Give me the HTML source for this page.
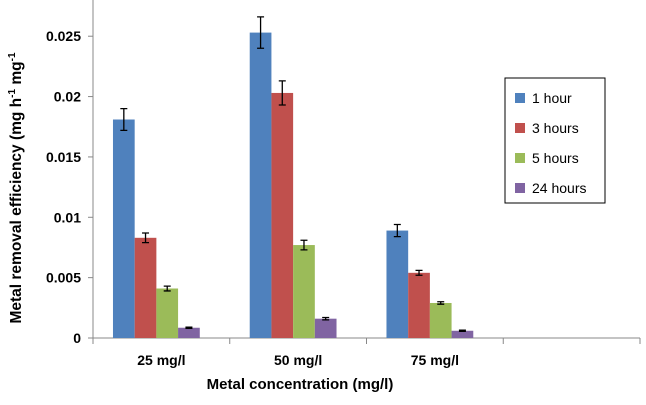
<!DOCTYPE html>
<html><head><meta charset="utf-8"><style>
html,body{margin:0;padding:0;background:#fff;}
svg{display:block;font-family:"Liberation Sans",sans-serif;}
</style></head><body>
<svg id="chart" width="646" height="405" viewBox="0 0 646 405"></svg>
<script>
const categories = ["25 mg/l","50 mg/l","75 mg/l",""];
const seriesNames = ["1 hour","3 hours","5 hours","24 hours"];
const seriesColors = ["#4F81BD","#C0504D","#9BBB59","#8064A2"];
const values1h = [0.0181,0.0253,0.0089];
const values3h = [0.0083,0.0203,0.0054];
const values5h = [0.0041,0.0077,0.0029];
const values24h = [0.00085,0.0016,0.0006];
const err1h = [0.0009,0.0013,0.0005];
const err3h = [0.0004,0.0010,0.0002];
const err5h = [0.0002,0.0004,0.0001];
const err24h = [0.00005,0.0001,0.00005];
const yTicks = [0,0.005,0.01,0.015,0.02,0.025];
const yTickLabels = ["0","0.005","0.01","0.015","0.02","0.025"];

const NS="http://www.w3.org/2000/svg";
const svg=document.getElementById('chart');
const X0=93,X1=640,Y0=338,YMAX=0.028,TOPY=0;
const y=v=>Y0-(v/YMAX)*(Y0-TOPY);
const gw=(X1-X0)/categories.length;
const barW=21.7;
function mk(t,a,p){const e=document.createElementNS(NS,t);for(const k in a)e.setAttribute(k,a[k]);(p||svg).appendChild(e);return e;}

const axes=mk('g',{});


const ya=mk('line',{x1:X0,y1:TOPY,x2:X0,y2:Y0,stroke:'#888','stroke-width':1},axes);


const xa=mk('line',{x1:X0,y1:Y0,x2:X1,y2:Y0,stroke:'#888','stroke-width':1},axes);


yTicks.forEach((v,i)=>{
  mk('line',{x1:X0-5,y1:y(v),x2:X0,y2:y(v),stroke:'#888'},axes);
  const t=mk('text',{x:X0-12,y:y(v)+5,'text-anchor':'end','font-size':14,'font-weight':'bold',fill:'#000'},axes);
  t.textContent=yTickLabels[i];
  
  
});
for(let i=0;i<=categories.length;i++){
  const x=X0+i*gw;
  mk('line',{x1:x,y1:Y0,x2:x,y2:Y0+6,stroke:'#888'},axes);
}
categories.forEach((c,i)=>{
  if(!c)return;
  const t=mk('text',{x:X0+gw*(i+0.5),y:Y0+27,'text-anchor':'middle','font-size':14,'font-weight':'bold'},axes);
  t.textContent=c;
  
  
});
const allVals=[values1h,values3h,values5h,values24h];
const allErr=[err1h,err3h,err5h,err24h];
allVals.forEach((vals,s)=>{
  const g=mk('g',{});
  
  
  vals.forEach((v,i)=>{
    const cx=X0+gw*(i+0.5)-5;
    const x=cx-2*barW+s*barW;
    const r=mk('rect',{x:x,y:y(v),width:barW,height:Y0-y(v),fill:seriesColors[s]},g);
    
    
    const e=allErr[s][i],mx=x+barW/2;
    const eb=mk('path',{d:`M${mx} ${y(v+e)}V${y(v-e)}M${mx-3.5} ${y(v+e)}H${mx+3.5}M${mx-3.5} ${y(v-e)}H${mx+3.5}`,stroke:'#000','stroke-width':1.3,fill:'none'},g);
    
    
  });
});
const yt=mk('text',{transform:'translate(21,188) rotate(-90)','text-anchor':'middle','font-size':15.5,'font-weight':'bold'});
yt.innerHTML='Metal removal efficiency  (mg h<tspan dy="-6" font-size="10">-1</tspan><tspan dy="6"> mg</tspan><tspan dy="-6" font-size="10">-1</tspan>';


const xt=mk('text',{x:300,y:389,'text-anchor':'middle','font-size':15,'font-weight':'bold'});
xt.textContent='Metal concentration (mg/l)';


const lg=mk('g',{});


mk('rect',{x:505,y:78,width:100,height:125,fill:'#fff',stroke:'#000','stroke-width':1},lg);
seriesNames.forEach((n,i)=>{
  const e=mk('g',{},lg);
  
  
  const yy=98+i*30;
  mk('rect',{x:515,y:yy-5,width:10,height:10,fill:seriesColors[i]},e);
  const t=mk('text',{x:532,y:yy+5,'font-size':14},e);
  t.textContent=n;
});
</script>
</body></html>
